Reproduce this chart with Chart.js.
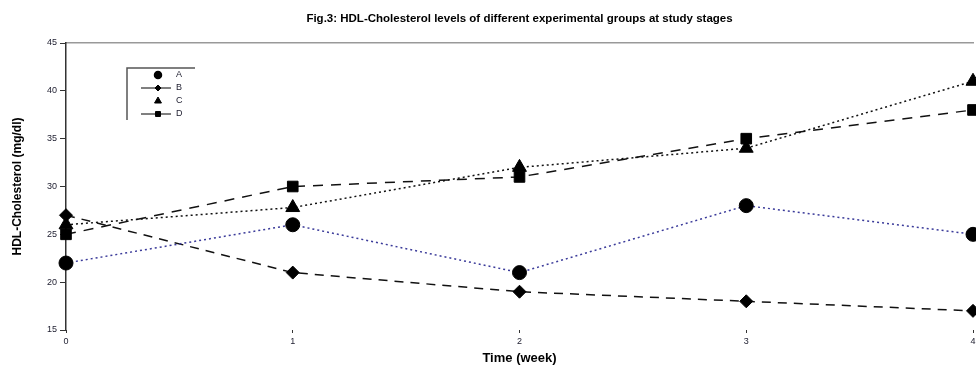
<!DOCTYPE html>
<html>
<head>
<meta charset="utf-8">
<script src="https://cdn.jsdelivr.net/npm/chart.js@4"></script>
<style>
  body { margin: 0; background: #fff; }
  #wrap { width: 976px; height: 372px; }
</style>
</head>
<body>
<div id="wrap"><canvas id="hdl-chart" width="976" height="372"></canvas></div>
<script>
// Data
const weeks = [0, 1, 2, 3, 4];
const groupA = [22, 26, 21, 28, 25];
const groupB = [27, 21, 19, 18, 17];
const groupC = [26, 27.8, 32, 34, 41];
const groupD = [25, 30, 31, 35, 38];
const groupNames = ["A", "B", "C", "D"];
const yTicks = [15, 20, 25, 30, 35, 40, 45];
const xTicks = weeks;

const toPoints = (vals) => vals.map((v, i) => ({ x: weeks[i], y: v }));

// Legend drawn like the original: frame on top + left, line sample only for B and D
const boxLegend = {
    id: "boxLegend",
    afterDatasetsDraw(chart) {
        const ctx = chart.ctx;
        const left = 127, top = 68;
        ctx.save();
        ctx.strokeStyle = "#555";
        ctx.lineWidth = 1.5;
        ctx.beginPath();
        ctx.moveTo(left + 68, top);
        ctx.lineTo(left, top);
        ctx.lineTo(left, top + 52);
        ctx.stroke();

        chart.data.datasets.forEach((ds, i) => {
            const y = top + 7 + i * 13;
            if (ds.legendLine) {
                ctx.strokeStyle = "#000";
                ctx.lineWidth = 1;
                ctx.setLineDash([]);
                ctx.beginPath();
                ctx.moveTo(left + 14, y);
                ctx.lineTo(left + 44, y);
                ctx.stroke();
            }
            ctx.fillStyle = "#000";
            ctx.strokeStyle = "#000";
            Chart.helpers.drawPoint(ctx, {
                pointStyle: ds.pointStyle,
                radius: ds.legendRadius,
                rotation: 0,
                borderWidth: 1
            }, left + 31, y);
            ctx.fillStyle = "#223";
            ctx.font = "9px 'Liberation Sans', Arial, sans-serif";
            ctx.textBaseline = "middle";
            ctx.textAlign = "left";
            ctx.fillText(ds.label, left + 49, y);
        });
        ctx.restore();
    }
};

const datasets = [
    {
        label: groupNames[0], data: toPoints(groupA),
        borderColor: "#3b3b9a", borderWidth: 1.5, borderDash: [2, 3],
        pointStyle: "circle", pointRadius: 7, legendRadius: 3.5, legendLine: false
    },
    {
        label: groupNames[1], data: toPoints(groupB),
        borderColor: "#111", borderWidth: 1.5, borderDash: [9, 7],
        pointStyle: "rectRot", pointRadius: 6.5, legendRadius: 3, legendLine: true
    },
    {
        label: groupNames[2], data: toPoints(groupC),
        borderColor: "#111", borderWidth: 1.5, borderDash: [2, 3],
        pointStyle: "triangle", pointRadius: 8, legendRadius: 4, legendLine: false
    },
    {
        label: groupNames[3], data: toPoints(groupD),
        borderColor: "#111", borderWidth: 1.5, borderDash: [10, 8],
        pointStyle: "rect", pointRadius: 7.5, legendRadius: 3.5, legendLine: true
    }
];
datasets.forEach(ds => {
    ds.pointBackgroundColor = "#000";
    ds.pointBorderColor = "#000";
    ds.pointBorderWidth = 1;
    ds.tension = 0;
    ds.clip = false;
});

const tickFont = { family: "'Liberation Sans', Arial, sans-serif", size: 9 };

new Chart(document.querySelector("#hdl-chart"), {
    type: "line",
    data: { datasets },
    plugins: [boxLegend],
    options: {
        responsive: false,
        animation: false,
        layout: { autoPadding: false, padding: { left: 0, top: 0, bottom: 0, right: 3 } },
        plugins: { legend: { display: false }, tooltip: { enabled: false } },
        scales: {
            x: {
                type: "linear", position: "bottom",
                min: xTicks[0], max: xTicks[xTicks.length - 1],
                afterBuildTicks: (s) => { s.ticks = xTicks.map(v => ({ value: v })); },
                ticks: { font: tickFont, color: "#223", padding: 3, maxRotation: 0 },
                grid: { drawOnChartArea: false, tickLength: 3, color: "#333" },
                border: { display: false },
                title: {
                    display: true, text: "Time (week)", color: "#000",
                    font: { family: "'Liberation Sans', Arial, sans-serif", size: 13, weight: "bold" },
                    padding: { top: 0, bottom: 6 }
                },
                afterFit: (s) => { s.height = 42; s.paddingRight = 0; }
            },
            x2: {
                type: "linear", position: "top", display: true,
                min: 0, max: 4,
                ticks: { display: false },
                grid: { display: false },
                border: { display: true, color: "#999", width: 1.5 },
                title: {
                    display: true,
                    text: "Fig.3: HDL-Cholesterol levels of different experimental groups at study stages",
                    color: "#000",
                    font: { family: "'Liberation Sans', Arial, sans-serif", size: 11.5, weight: "bold" },
                    padding: { top: 12, bottom: 0 }
                },
                afterFit: (s) => { s.height = 43; s.paddingRight = 0; }
            },
            y: {
                min: yTicks[0], max: yTicks[yTicks.length - 1],
                afterBuildTicks: (s) => { s.ticks = yTicks.map(v => ({ value: v })); },
                ticks: { font: tickFont, color: "#223", padding: 3 },
                grid: { drawOnChartArea: false, tickLength: 6, color: "#333" },
                border: { display: true, color: "#333", width: 1.5 },
                title: {
                    display: true, text: "HDL-Cholesterol (mg/dl)", color: "#000",
                    font: { family: "'Liberation Sans', Arial, sans-serif", size: 12, weight: "bold" },
                    padding: { top: 10, bottom: 0 }
                },
                afterFit: (s) => { s.width = 66; }
            }
        }
    }
});
</script>
</body>
</html>
